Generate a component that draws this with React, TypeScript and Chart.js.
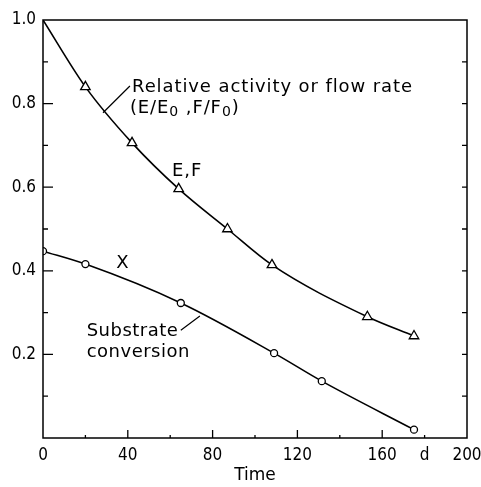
import React, { useEffect, useRef } from 'react';
import { Chart, registerables } from 'chart.js';

Chart.register(...registerables);

const FONT = "'DejaVu Sans Condensed', 'DejaVu Sans', sans-serif";
const TEXT_FONT = "'DejaVu Sans', sans-serif";

// Relative activity / flow rate (E/E0, F/F0) — curve starts at 1.0, triangles are measurements
const activityTime = [0, 20, 42, 64, 87, 108, 153, 175];
const activityValue = [1.0, 0.84, 0.706, 0.596, 0.5, 0.414, 0.29, 0.244];
const activityMarked = [false, true, true, true, true, true, true, true];

// Substrate conversion X — circles
const conversionTime = [0, 20, 65, 109, 131.5, 175];
const conversionValue = [0.447, 0.416, 0.323, 0.203, 0.136, 0.02];

const xTickLabels: Record<number, string> = { 0: '0', 40: '40', 80: '80', 120: '120', 160: '160', 180: 'd', 200: '200' };
const yTickLabels: Record<number, string> = { 2: '0.2', 4: '0.4', 6: '0.6', 8: '0.8', 10: '1.0' };

const xTitle = 'Time';
const activityLabel1 = 'Relative activity or flow rate';
const activityCurveLabel = 'E,F';
const conversionCurveLabel = 'X';
const conversionLabel1 = 'Substrate';
const conversionLabel2 = 'conversion';

const framePlugin = {
  id: 'frameTicks',
  afterDraw(chart: any) {
    const { ctx, chartArea: a, scales } = chart;
    const xs = scales.x, ys = scales.y;
    ctx.save();
    ctx.strokeStyle = '#000';
    ctx.lineWidth = 1.5;
    ctx.strokeRect(a.left, a.top, a.right - a.left, a.bottom - a.top);
    ctx.lineWidth = 1.3;
    ctx.beginPath();
    for (let i = 1; i < 10; i++) {
      const y = ys.getPixelForValue(i / 10);
      const major = i % 2 === 0;
      ctx.moveTo(a.left, y);
      ctx.lineTo(a.left + (major ? 10 : 5), y);
      ctx.moveTo(a.right, y);
      ctx.lineTo(a.right - 5, y);
    }
    for (let v = 20; v < 200; v += 20) {
      const x = xs.getPixelForValue(v);
      const major = v % 40 === 0;
      ctx.moveTo(x, a.bottom);
      ctx.lineTo(x, a.bottom - (major ? 8 : 3));
    }
    ctx.stroke();
    ctx.restore();
  },
};

const annotationPlugin = {
  id: 'annotations',
  afterDatasetsDraw(chart: any) {
    const { ctx, scales } = chart;
    const px = (v: number) => scales.x.getPixelForValue(v);
    const py = (v: number) => scales.y.getPixelForValue(v);
    ctx.save();
    ctx.fillStyle = '#000';
    ctx.strokeStyle = '#000';
    ctx.textBaseline = 'middle';
    ctx.textAlign = 'left';
    (ctx as any).letterSpacing = '0.9px';
    ctx.font = `18px ${TEXT_FONT}`;
    ctx.fillText(activityLabel1, px(42), py(0.838));

    // (E/E0 ,F/F0)
    let x = px(41);
    const y = py(0.788);
    const parts: [string, boolean][] = [['(E/E', false], ['0', true], [' ,F/F', false], ['0', true], [')', false]];
    for (const [t, sub] of parts) {
      ctx.font = sub ? `14px ${TEXT_FONT}` : `18px ${TEXT_FONT}`;
      ctx.fillText(t, x, sub ? y + 4 : y);
      x += ctx.measureText(t).width;
    }

    ctx.font = `18px ${TEXT_FONT}`;
    ctx.textAlign = 'center';
    ctx.fillText(activityCurveLabel, px(68), py(0.639));
    ctx.fillText(conversionCurveLabel, px(37.7), py(0.417));
    ctx.textAlign = 'left';
    (ctx as any).letterSpacing = '0.5px';
    ctx.fillText(conversionLabel1, px(20.6), py(0.256));
    ctx.fillText(conversionLabel2, px(20.6), py(0.204));

    ctx.lineWidth = 1.2;
    ctx.beginPath();
    ctx.moveTo(px(41), py(0.842));
    ctx.lineTo(px(28.3), py(0.778));
    ctx.moveTo(px(65), py(0.258));
    ctx.lineTo(px(74), py(0.292));
    ctx.stroke();
    ctx.restore();
  },
};

export default function App() {
  const ref = useRef<HTMLCanvasElement | null>(null);
  useEffect(() => {
    document.body.style.margin = '0';
    if (!ref.current) return;
    const chart = new Chart(ref.current, {
      type: 'line',
      data: {
        datasets: [
          {
            data: activityTime.map((t, i) => ({ x: t, y: activityValue[i] })),
            borderColor: '#000',
            borderWidth: 1.6,
            cubicInterpolationMode: 'monotone',
            pointStyle: 'triangle',
            pointRadius: activityMarked.map((m) => (m ? 5.5 : 0)),
            pointBorderWidth: 1.3,
            pointBorderColor: '#000',
            pointBackgroundColor: '#fff',
            fill: false,
          },
          {
            data: conversionTime.map((t, i) => ({ x: t, y: conversionValue[i] })),
            borderColor: '#000',
            borderWidth: 1.6,
            cubicInterpolationMode: 'monotone',
            pointStyle: 'circle',
            pointRadius: 3.5,
            pointBorderWidth: 1.3,
            pointBorderColor: '#000',
            pointBackgroundColor: '#fff',
            fill: false,
          },
        ],
      },
      options: {
        animation: false,
        responsive: true,
        maintainAspectRatio: false,
        layout: { padding: { left: 0, right: 14, top: 20, bottom: 0 } },
        plugins: { legend: { display: false }, tooltip: { enabled: false } },
        scales: {
          x: {
            type: 'linear',
            min: 0,
            max: 200,
            grid: { display: false, drawTicks: false },
            border: { display: false },
            ticks: {
              stepSize: 20,
              autoSkip: false,
              maxRotation: 0,
              padding: 7,
              color: '#000',
              font: { family: FONT, size: 17 },
              callback: (v: any) => xTickLabels[Math.round(Number(v))] ?? '',
            },
            title: {
              display: true,
              text: xTitle,
              color: '#000',
              font: { family: TEXT_FONT, size: 17 },
              padding: { top: 0, bottom: 1 },
            },
            afterFit: (s: any) => {
              s.height = 49;
              s.paddingLeft = 0;
              s.paddingRight = 0;
            },
          },
          y: {
            type: 'linear',
            min: 0,
            max: 1,
            grid: { display: false, drawTicks: false },
            border: { display: false },
            ticks: {
              stepSize: 0.1,
              autoSkip: false,
              padding: 7,
              color: '#000',
              font: { family: FONT, size: 17 },
              callback: (v: any) => yTickLabels[Math.round(Number(v) * 10)] ?? '',
            },
            afterFit: (s: any) => {
              s.width = 43;
              s.paddingTop = 0;
              s.paddingBottom = 0;
            },
          },
        },
      },
      plugins: [framePlugin, annotationPlugin],
    });
    return () => chart.destroy();
  }, []);
  return (
    <div style={{ width: 481, height: 487, position: 'relative', background: '#fff' }}>
      <canvas ref={ref} />
    </div>
  );
}
